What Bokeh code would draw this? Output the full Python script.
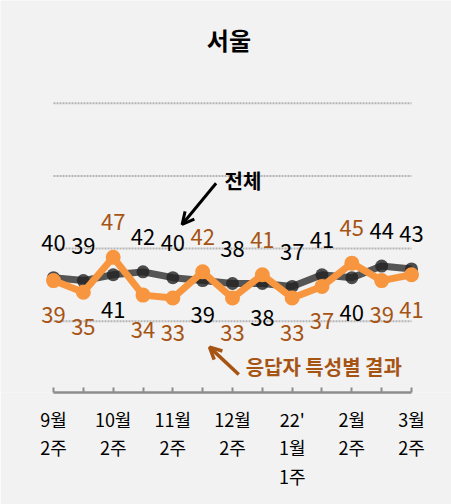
from bokeh.plotting import figure
from bokeh.models import Range1d, FixedTicker, Arrow, OpenHead, Label, ColumnDataSource, LinearAxis
from bokeh.core.properties import value
from bokeh.embed import file_html
from bokeh.resources import INLINE

# ---- data ----
weeks = list(range(13))
total = [40, 39, 41, 42, 40, 39, 38, 38, 37, 41, 40, 44, 43]          # 전체
subgroup = [39, 35, 47, 34, 33, 42, 33, 41, 33, 37, 45, 39, 41]       # 응답자 특성별 결과
tick_labels = {0: "9월\n2주", 2: "10월\n2주", 4: "11월\n2주", 6: "12월\n2주",
               8: "22'\n1월\n1주", 10: "2월\n2주", 12: "3월\n2주"}
grid_values = [25, 50, 75, 100]

FONT = "Noto Sans CJK KR"
BG = "#f2f2f2"
DARK = "#3a3a3a"
ORANGE = "#f8963f"
BROWN = "#a65414"

p = figure(width=451, height=504, x_range=Range1d(-1.777, 13.341), y_range=Range1d(0.5, 135.35),
           output_backend="svg", toolbar_location=None, x_axis_type=None, y_axis_type=None)
p.min_border_left = 0
p.min_border_right = 0
p.min_border_top = 0
p.min_border_bottom = 112
p.background_fill_color = BG
p.border_fill_color = BG
p.outline_line_color = None

# x axis
overrides = {i: tick_labels.get(i, "") for i in weeks}
ax = LinearAxis(ticker=FixedTicker(ticks=weeks), bounds=(0, 12), major_label_overrides=overrides,
                axis_line_color="#8c8c8c", axis_line_width=2.5,
                major_tick_line_color="#8c8c8c", major_tick_line_width=2,
                major_tick_in=5, major_tick_out=0, minor_tick_line_color=None,
                major_label_text_font=FONT, major_label_text_font_size="18px",
                major_label_text_color="black", major_label_standoff=13,
                major_label_text_line_height=1.11)
p.add_layout(ax, "below")

# dotted gridlines across the data span
p.segment(x0=[weeks[0]] * len(grid_values), x1=[weeks[-1]] * len(grid_values),
          y0=grid_values, y1=grid_values, line_color="#b4b4b4", line_width=2, line_dash="2 1")

# series
p.line(weeks, total, line_color=DARK, line_width=7, line_alpha=0.85)
p.scatter(weeks, total, size=13, fill_color="#222222", line_color=None, fill_alpha=0.8)
p.line(weeks, subgroup, line_color=ORANGE, line_width=7)
p.scatter(weeks, subgroup, size=15, fill_color=ORANGE, line_color=None)

# value labels: the higher of the two goes above, the lower below
OFF = 12
lx, ly, lt, lc = [], [], [], []
for i, (a, b) in enumerate(zip(total, subgroup)):
    if a >= b:
        ya, yb = a + OFF, b - OFF
    else:
        ya, yb = a - OFF, b + OFF
    lx += [i, i]
    ly += [ya, yb]
    lt += [str(a), str(b)]
    lc += ["black", BROWN]
src = ColumnDataSource(dict(x=lx, y=ly, t=lt, c=lc))
p.text(x="x", y="y", text="t", text_color="c", source=src, text_font=value(FONT),
       text_font_size=value("22px"), text_align="center", text_baseline="middle")

# title
p.add_layout(Label(x=5.88, y=121.8, text="서울", text_font=FONT, text_font_size="24px",
                   text_font_style="bold", text_color="black", text_align="center",
                   text_baseline="middle"))

# annotations
p.add_layout(Label(x=6.35, y=73.6, text="전체", text_font=FONT, text_font_size="20px",
                   text_font_style="bold", text_color="black", text_align="center",
                   text_baseline="middle"))
p.add_layout(Arrow(x_start=5.45, y_start=72.5, x_end=4.31, y_end=58.3, line_color="black",
                   line_width=3, end=OpenHead(size=12, line_width=3, line_color="black")))
p.add_layout(Label(x=6.44, y=9.4, text="응답자 특성별 결과", text_font=FONT, text_font_size="20px",
                   text_font_style="bold", text_color=BROWN, text_align="left",
                   text_baseline="middle"))
p.add_layout(Arrow(x_start=6.21, y_start=6.7, x_end=5.23, y_end=16.1, line_color=BROWN,
                   line_width=3.5, end=OpenHead(size=12, line_width=3.5, line_color=BROWN)))

open("out.html", "w").write(file_html(p, INLINE))
